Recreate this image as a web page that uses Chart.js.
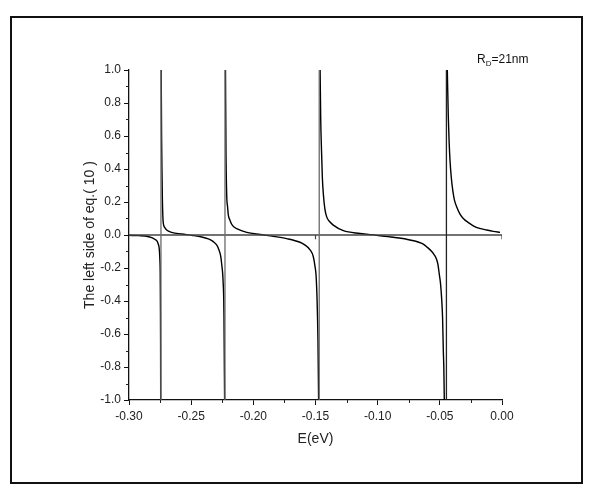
<!DOCTYPE html>
<html>
<head>
<meta charset="utf-8">
<script src="https://cdn.jsdelivr.net/npm/chart.js@4/dist/chart.umd.min.js"></script>
<style>
  html, body { margin: 0; padding: 0; background: #fff; }
  #wrap { position: relative; width: 591px; height: 498px; }
  #frame { position: absolute; left: 10px; top: 16px; width: 569px; height: 464px; border: 2px solid #111; box-sizing: content-box; pointer-events: none; }
  canvas { position: absolute; left: 0; top: 0; }
</style>
</head>
<body>
<div id="wrap">
  <canvas id="c" width="591" height="498"></canvas>
  <div id="frame"></div>
</div>
<script>
// Energy (eV) and left-hand side of eq.(10), one branch between consecutive poles
const branch1E = [-0.300, -0.292, -0.287, -0.2817, -0.2793, -0.2772, -0.2765, -0.2759, -0.2755, -0.2751, -0.2749, -0.2748, -0.2747, -0.2746, -0.2745];
const branch1V = [-0.002, -0.004, -0.006, -0.016, -0.026, -0.040, -0.055, -0.070, -0.100, -0.160, -0.220, -0.330, -0.450, -0.650, -1.000];

const branch2E = [-0.2741, -0.2738, -0.2735, -0.2732, -0.2728, -0.2724, -0.2712, -0.2697, -0.2657, -0.2576, -0.2496, -0.2415, -0.2362, -0.2322, -0.2287, -0.2277, -0.2268, -0.2260, -0.2254, -0.2246, -0.2242, -0.2238, -0.2236, -0.2234, -0.2231];
const branch2V = [1.000, 0.600, 0.400, 0.240, 0.120, 0.070, 0.045, 0.030, 0.016, 0.006, -0.002, -0.012, -0.024, -0.040, -0.070, -0.090, -0.110, -0.140, -0.180, -0.240, -0.300, -0.390, -0.500, -0.700, -1.000];

const branch3E = [-0.2224, -0.2220, -0.2214, -0.2207, -0.2201, -0.2188, -0.2174, -0.2155, -0.2134, -0.2053, -0.1946, -0.1839, -0.1732, -0.1625, -0.1590, -0.1544, -0.1518, -0.1504, -0.1495, -0.1487, -0.1480, -0.1475];
const branch3V = [1.000, 0.500, 0.240, 0.170, 0.120, 0.090, 0.065, 0.048, 0.038, 0.016, 0.003, -0.008, -0.022, -0.044, -0.058, -0.090, -0.130, -0.190, -0.250, -0.400, -0.650, -1.000];

const branch4E = [-0.1463, -0.1458, -0.1452, -0.1445, -0.1437, -0.1425, -0.1410, -0.1385, -0.1357, -0.1276, -0.1142, -0.1008, -0.0874, -0.0740, -0.0633, -0.0600, -0.0565, -0.0545, -0.0525, -0.0515, -0.0504, -0.0495, -0.0485, -0.0478, -0.0472, -0.0468, -0.0464];
const branch4V = [1.000, 0.700, 0.520, 0.350, 0.250, 0.160, 0.110, 0.080, 0.060, 0.026, 0.009, -0.002, -0.014, -0.030, -0.055, -0.075, -0.100, -0.120, -0.150, -0.180, -0.240, -0.290, -0.390, -0.500, -0.700, -0.800, -1.000];

const branch5E = [-0.0440, -0.0432, -0.0425, -0.0418, -0.0408, -0.0396, -0.0382, -0.0364, -0.0340, -0.0311, -0.0270, -0.0231, -0.0180, -0.0123, -0.0070, -0.0016];
const branch5V = [1.000, 0.720, 0.560, 0.450, 0.350, 0.270, 0.210, 0.170, 0.130, 0.100, 0.075, 0.056, 0.040, 0.030, 0.022, 0.016];

// Pole positions (vertical guide lines) and their stroke colours
const poleE = [-0.2743, -0.2228, -0.1470, -0.0447];
const poleColors = ['#6a6a6a', '#6a6a6a', '#6a6a6a', '#222222'];

// Ticks on the zero line
const zeroLineTicks = [-0.15, 0.00];

// Axis ranges and tick steps
const xRange = [-0.30, 0.00];
const yRange = [-1.0, 1.0];
const xMajorStep = 0.05;
const yMajorStep = 0.2;

const zip = (xs, ys) => xs.map((x, i) => ({ x: x, y: ys[i] }));

const curveStyle = {
  showLine: true, borderColor: '#000', borderWidth: 1.4, pointRadius: 0,
  cubicInterpolationMode: 'monotone', fill: false
};

const datasets = [];
poleE.forEach((e, i) => {
  datasets.push({
    data: [{ x: e, y: yRange[0] }, { x: e, y: yRange[1] }],
    showLine: true, borderColor: poleColors[i], borderWidth: 1.3, pointRadius: 0
  });
});
datasets.push({
  data: [{ x: xRange[0], y: 0 }, { x: xRange[1], y: 0 }],
  showLine: true, borderColor: '#444', borderWidth: 1.4, pointRadius: 0
});
zeroLineTicks.forEach(e => {
  datasets.push({
    data: [{ x: e, y: 0 }, { x: e, y: -0.025 }],
    showLine: true, borderColor: '#444', borderWidth: 1.2, pointRadius: 0
  });
});
[[branch1E, branch1V], [branch2E, branch2V], [branch3E, branch3V], [branch4E, branch4V], [branch5E, branch5V]]
  .forEach(([xs, ys]) => datasets.push(Object.assign({ data: zip(xs, ys) }, curveStyle)));

const FONT = '"Liberation Sans", Arial, sans-serif';

// Minor ticks halfway between labelled ticks, plus the R_D annotation
const extras = {
  id: 'extras',
  afterDraw(chart) {
    const ctx = chart.ctx;
    const xs = chart.scales.x, ys = chart.scales.y;
    ctx.save();
    ctx.strokeStyle = '#222';
    ctx.lineWidth = 1;
    ctx.beginPath();
    for (let v = yRange[0] + yMajorStep / 2; v < yRange[1]; v += yMajorStep) {
      const py = Math.round(ys.getPixelForValue(v)) + 0.5;
      ctx.moveTo(xs.left - 3, py); ctx.lineTo(xs.left, py);
    }
    for (let v = xRange[0] + xMajorStep / 2; v < xRange[1]; v += xMajorStep) {
      const px = Math.round(xs.getPixelForValue(v)) + 0.5;
      ctx.moveTo(px, ys.bottom); ctx.lineTo(px, ys.bottom + 3);
    }
    ctx.stroke();

    ctx.fillStyle = '#111';
    ctx.textBaseline = 'alphabetic';
    ctx.font = '12px ' + FONT;
    let x0 = 477, y0 = 63;
    ctx.fillText('R', x0, y0);
    x0 += ctx.measureText('R').width;
    ctx.font = '8px ' + FONT;
    ctx.fillText('D', x0, y0 + 3);
    x0 += ctx.measureText('D').width;
    ctx.font = '12px ' + FONT;
    ctx.fillText('=21nm', x0, y0);
    ctx.restore();
  }
};

new Chart(document.getElementById('c'), {
  type: 'scatter',
  data: { datasets: datasets },
  options: {
    responsive: false,
    animation: false,
    layout: { padding: { left: 78, top: 70, right: 89, bottom: 46 } },
    plugins: { legend: { display: false }, tooltip: { enabled: false } },
    scales: {
      x: {
        type: 'linear', min: xRange[0], max: xRange[1],
        afterFit: s => { s.height = 52; },
        border: { color: '#111', width: 1.3 },
        grid: { drawOnChartArea: false, tickLength: 5, color: '#111' },
        ticks: {
          stepSize: xMajorStep, color: '#222', padding: 4,
          font: { family: FONT, size: 12 },
          callback: v => (Math.abs(v) < 1e-9 ? 0 : v).toFixed(2)
        },
        title: {
          display: true, text: 'E(eV)', color: '#222', padding: { top: 5 },
          font: { family: FONT, size: 14 }
        }
      },
      y: {
        type: 'linear', min: yRange[0], max: yRange[1],
        afterFit: s => { s.width = 51; },
        border: { color: '#111', width: 1.3 },
        grid: { drawOnChartArea: false, tickLength: 5, color: '#111' },
        ticks: {
          stepSize: yMajorStep, color: '#222', padding: 3,
          font: { family: FONT, size: 12 },
          callback: v => (Math.abs(v) < 1e-9 ? 0 : v).toFixed(1)
        },
        title: {
          display: true, text: 'The left side of eq.( 10 )', color: '#222', padding: { top: 4, bottom: 4 },
          font: { family: FONT, size: 14 }
        }
      }
    }
  },
  plugins: [extras]
});
</script>
</body>
</html>
